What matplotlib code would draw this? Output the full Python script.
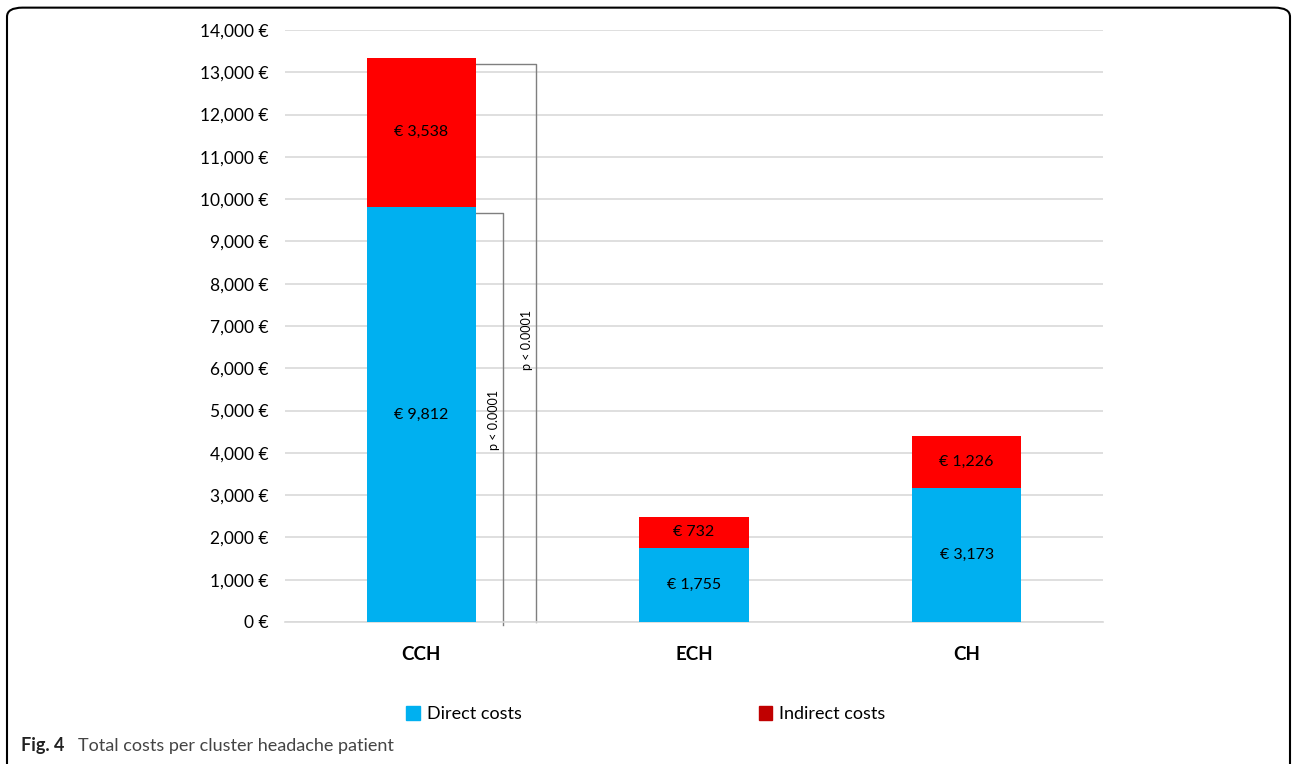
import matplotlib.pyplot as plt
from matplotlib.patches import FancyBboxPatch, Patch
from matplotlib.ticker import FuncFormatter

groups = ["CCH", "ECH", "CH"]
direct_costs = [9812, 1755, 3173]
indirect_costs = [3538, 732, 1226]

bracket_inner_y = 9670
bracket_outer_y = 13190
p_label = "p < 0.0001"

plt.rcParams["font.family"] = ["Lato", "DejaVu Sans"]

fig = plt.figure(figsize=(12.92, 7.64), dpi=100)
ax = fig.add_axes([0.2206, 0.1859, 0.6331, 0.7748])

x = range(len(groups))

ax.bar(x, direct_costs, width=0.4, color="#00B0F0", zorder=3)
ax.bar(x, indirect_costs, width=0.4, bottom=direct_costs,
       color="#FF0000", zorder=3)

for i in x:
    ax.text(i, direct_costs[i] / 2, f"€ {direct_costs[i]:,}",
            ha="center", va="center", fontsize=11.5, zorder=4)
    ax.text(i, direct_costs[i] + indirect_costs[i] / 2,
            f"€ {indirect_costs[i]:,}",
            ha="center", va="center", fontsize=11.5, zorder=4)

# significance brackets
ax.plot([0.2, 0.299, 0.299], [bracket_inner_y, bracket_inner_y, -80],
        color="#7F7F7F", lw=1, zorder=2, clip_on=False)
ax.plot([0.2, 0.42, 0.42], [bracket_outer_y, bracket_outer_y, 0],
        color="#7F7F7F", lw=1, zorder=2, clip_on=False)
ax.text(0.266, 4780, p_label, rotation=90, ha="center", va="center",
        fontsize=9)
ax.text(0.387, 6670, p_label, rotation=90, ha="center", va="center",
        fontsize=9)

ax.set_xlim(-0.5, 2.5)
ax.set_ylim(0, 14000)
ax.set_yticks(range(0, 14001, 1000))
ax.yaxis.set_major_formatter(FuncFormatter(lambda v, p: f"{int(v):,} €"))
ax.set_xticks(list(x))
ax.set_xticklabels(groups, fontsize=13.5, fontweight="bold")

ax.tick_params(axis="y", length=0, pad=12, labelsize=12.5)
ax.tick_params(axis="x", length=0, pad=17)

ax.grid(axis="y", color="#D9D9D9", lw=1.2, zorder=0)
for s in ["top", "right", "left"]:
    ax.spines[s].set_visible(False)
ax.spines["bottom"].set_color("#D9D9D9")
ax.spines["bottom"].set_linewidth(1.2)

handles = [
    Patch(color="#00B0F0", label="Direct costs"),
    Patch(color="#C00000", label="Indirect costs"),
]
fig.legend(handles=handles, loc="center", bbox_to_anchor=(0.5, 0.065),
           ncol=2, frameon=False, fontsize=13, handlelength=0.75,
           handleheight=0.75, handletextpad=0.4, columnspacing=13.1)

fig.text(0.016, 0.024, "Fig. 4", fontsize=13, fontweight="bold",
         color="#222222", va="center")
fig.text(0.060, 0.024, "Total costs per cluster headache patient",
         fontsize=13, color="#444444", va="center")

frame = FancyBboxPatch((7 / 1292, -0.02), 1283 / 1292, 1.01,
                       boxstyle="round,pad=0,rounding_size=0.012",
                       transform=fig.transFigure, fill=False,
                       edgecolor="black", lw=1.5)
fig.patches.append(frame)

fig.savefig("out.png", dpi=100)
